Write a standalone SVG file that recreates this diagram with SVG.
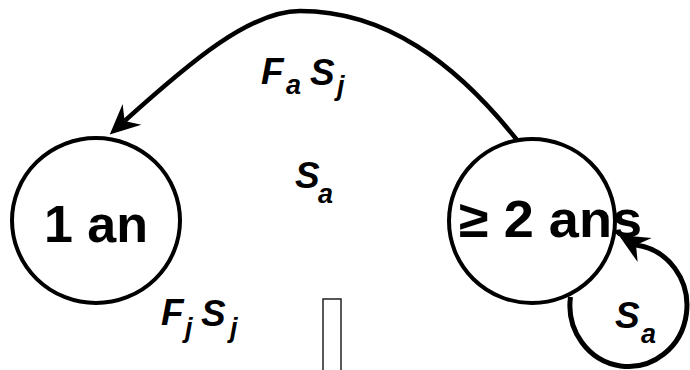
<svg xmlns="http://www.w3.org/2000/svg" width="690" height="370" viewBox="0 0 690 370">
<style>
.node{fill:#fff;stroke:#000;stroke-width:4}
.ntext{font-family:"Liberation Sans",Arial,sans-serif;font-weight:bold;font-size:52px;fill:#000}
.lab{font-family:"Liberation Sans",Arial,sans-serif;font-weight:bold;font-style:italic;font-size:37px;fill:#000}
.sub{font-size:27px}
.edge{fill:none;stroke:#000;stroke-width:4.5}
</style>
<defs>
<marker id="arrow" markerUnits="userSpaceOnUse" viewBox="0 0 30 30" markerWidth="30" markerHeight="30" refX="10" refY="15" orient="auto" overflow="visible">
<path d="M30,15 L0,1 L10,15 L0,29 Z" fill="#000"/>
</marker>
<marker id="arrowLoop" markerUnits="userSpaceOnUse" viewBox="0 0 30 30" markerWidth="30" markerHeight="30" refX="10" refY="15" orient="-150" overflow="visible">
<path d="M30,15 L0,1 L10,15 L0,29 Z" fill="#000"/>
</marker>
</defs>
<g id="node-1an">
<ellipse class="node" cx="96" cy="220.5" rx="84" ry="82.5"/>
<text class="ntext" x="96" y="242" text-anchor="middle">1 an</text>
</g>
<g id="node-2ans">
<ellipse class="node" cx="532" cy="221" rx="83" ry="82"/>
<text class="ntext" x="459" y="237" textLength="183" lengthAdjust="spacingAndGlyphs">≥ 2 ans</text>
</g>
<g id="connectors">
<path class="edge" d="M517,140 C455,62 385,11 300,11 C250,11 190,62 124.6,121" marker-end="url(#arrow)"/>
<path class="edge" style="stroke-width:5" d="M570.5,297 A58.5,61 0 1 0 636,245" marker-end="url(#arrowLoop)"/>
</g>
<g id="labels">
<text class="lab"><tspan x="261" y="84">F</tspan><tspan class="sub" x="286" y="94">a</tspan><tspan x="310" y="85">S</tspan><tspan class="sub" x="337" y="95">j</tspan></text>
<text class="lab"><tspan x="295" y="188">S</tspan><tspan class="sub" x="318" y="203">a</tspan></text>
<text class="lab"><tspan x="161" y="325">F</tspan><tspan class="sub" x="185" y="337">j</tspan><tspan x="201" y="326">S</tspan><tspan class="sub" x="230" y="337">j</tspan></text>
<text class="lab"><tspan x="615" y="328">S</tspan><tspan class="sub" x="641" y="343">a</tspan></text>
</g>
<rect x="323" y="299" width="18" height="80" fill="none" stroke="#222" stroke-width="1.5"/>
</svg>
